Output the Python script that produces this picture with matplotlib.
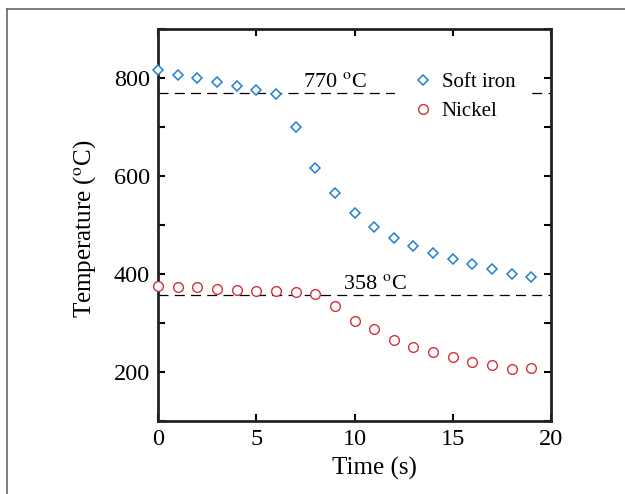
#!/usr/bin/env python3

import matplotlib
matplotlib.use('Agg')
import matplotlib.pyplot as plt
import matplotlib.ticker as mtick
from matplotlib.lines import Line2D

# Cooling curves of soft iron and nickel, Curie points marked as dashed lines.

time_s = list(range(0, 20))
soft_iron = [816, 806, 800, 792, 784, 776, 768, 700, 616, 565,
             524, 495, 473, 457, 443, 430, 420, 410, 401, 393]
nickel = [376, 374, 373, 370, 368, 366, 365, 363, 360, 335,
          305, 287, 266, 252, 241, 230, 221, 214, 207, 208]
curie_iron = 770
curie_nickel = 358

plt.rcParams['font.family'] = ['Liberation Serif', 'DejaVu Serif']
plt.rcParams['mathtext.fontset'] = 'stix'

BLUE = '#1f7fd3'
RED = '#d0323c'

fig = plt.figure(figsize=(6.25, 4.94), dpi=100)
ax = fig.add_axes([0.2528, 0.1478, 0.6288, 0.7935])

# gray frame around the whole figure (only top/left edges visible)
fig.add_artist(Line2D([7/625, 1.0], [1 - 9.5/494, 1 - 9.5/494], color='#666666', lw=1.2))
fig.add_artist(Line2D([7/625, 7/625], [0.0, 1 - 9.5/494], color='#666666', lw=1.2))

ax.axhline(curie_iron, color='black', lw=0.9, ls=(0, (8, 5)), zorder=1)
ax.axhline(curie_nickel, color='black', lw=0.9, ls=(0, (8, 5)), zorder=1)

ax.plot(time_s, soft_iron, ls='none', marker='D', ms=5.5, mfc='white',
        mec=BLUE, mew=1.1, label='Soft iron', clip_on=False, zorder=3)
ax.plot(time_s, nickel, ls='none', marker='o', ms=7, mfc='white',
        mec=RED, mew=1.0, label='Nickel', clip_on=False, zorder=3)

ax.text(7.38, 782, r'770 $^{\mathrm{o}}$C', fontsize=16, ha='left', va='baseline')
ax.text(9.4, 369, r'358 $^{\mathrm{o}}$C', fontsize=16, ha='left', va='baseline')

leg = ax.legend(loc='upper left', bbox_to_anchor=(0.576, 0.955), fontsize=15,
                frameon=True, framealpha=1, facecolor='white', edgecolor='none',
                handletextpad=0.3, labelspacing=0.44, borderpad=0.75,
                fancybox=False, handlelength=1.2)
leg.set_zorder(2)

ax.set_xlim(0, 20)
ax.set_ylim(100, 900)
ax.set_xticks([0, 5, 10, 15, 20])
ax.set_yticks([200, 400, 600, 800])
ax.yaxis.set_minor_locator(mtick.MultipleLocator(100))

ax.tick_params(which='both', direction='in', top=True, right=True,
               width=1.5, labelsize=17.5, pad=6)
ax.tick_params(which='major', length=5)
ax.tick_params(which='minor', length=5)

for s in ax.spines.values():
    s.set_linewidth(2)
    s.set_color('#222222')

ax.set_xlabel('Time (s)', fontsize=18)
ax.set_ylabel(r'Temperature ($^{\mathrm{o}}$C)', fontsize=18)
ax.xaxis.set_label_coords(0.552, -0.092)
ax.yaxis.set_label_coords(-0.152, 0.49)

plt.savefig('out.png', dpi=100)
